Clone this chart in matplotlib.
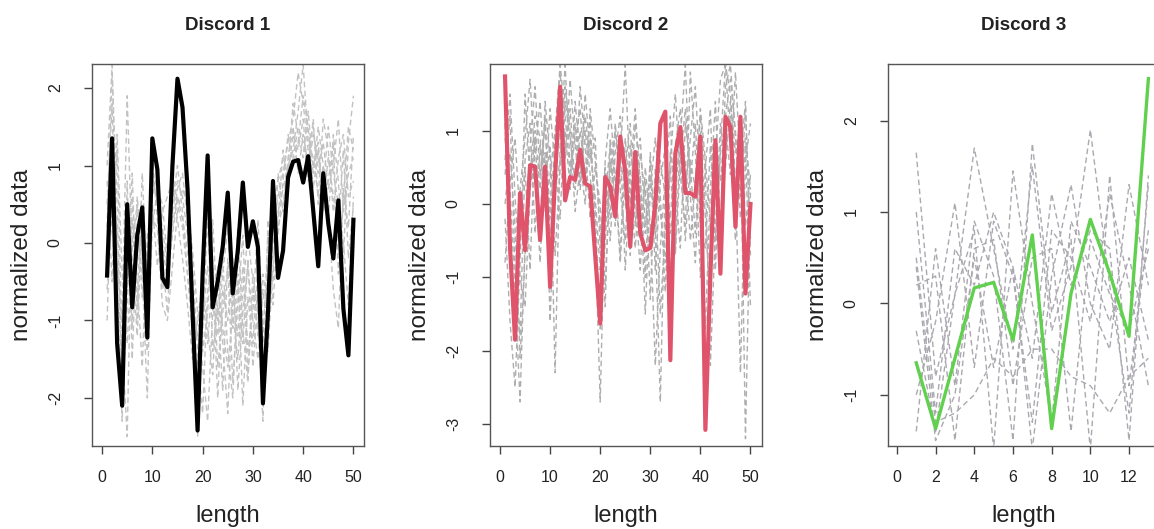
import numpy as np
import matplotlib
matplotlib.use("Agg")
import matplotlib.pyplot as plt

plt.rcParams['font.family'] = ['Liberation Sans', 'DejaVu Sans']

titles = ["Discord 1", "Discord 2", "Discord 3"]
xlabel = "length"
ylabel = "normalized data"

# ---- Discord 1 ----
discord1 = [-0.42, 1.35, -1.30, -2.10, 0.50, -0.83, 0.10, 0.46, -1.22, 1.35,
            0.95, -0.45, -0.57, 1.00, 2.12, 1.75, 0.70, -0.90, -2.42, -0.40,
            1.13, -0.83, -0.50, -0.05, 0.65, -0.65, -0.10, 0.78, -0.05, 0.28,
            -0.05, -2.07, -0.90, 0.80, -0.45, -0.10, 0.85, 1.05, 1.07, 0.78,
            1.12, 0.42, -0.30, 0.90, 0.25, -0.20, 0.55, -0.85, -1.45, 0.30]
nn1_a = [0.2, 2.2, 0.5, -1.8, -0.5, 0.3, -0.8, 0.9, -0.6, 0.8,
         0.6, 0.2, -0.3, 0.5, 1.0, 0.4, -0.4, -1.2, -1.6, -1.0,
         -0.3, -0.8, -1.2, -0.4, 0.2, -0.9, -1.5, -0.6, 0.1, -0.5,
         -1.1, -1.6, -1.0, 0.2, 0.6, 0.9, 1.3, 1.6, 2.2, 1.8,
         1.2, 1.5, 0.9, 1.3, 0.7, 1.0, 1.6, 0.4, 0.9, 1.1]
nn1_b = [-1.0, 1.0, -0.5, -2.3, 0.8, -1.5, 0.2, -0.4, -2.0, 0.6,
         0.9, -0.2, -0.9, 0.4, 0.8, 0.6, 0.1, -0.6, -2.5, -1.2,
         0.4, -1.4, -0.8, -1.9, -0.2, -1.1, -0.4, -2.1, -0.7, -1.3,
         -0.3, -1.8, -0.6, 0.5, 0.8, 1.1, 0.9, 1.4, 1.2, 1.6,
         0.8, 1.0, 1.3, 0.5, 1.1, 0.6, 0.2, 1.2, -0.2, 0.5]
nn1_c = [0.5, 1.8, -1.0, -0.9, 1.9, -0.2, -1.2, 0.3, -0.9, 1.1,
         0.3, -0.6, -0.4, 0.2, 0.7, 0.9, 0.3, -0.3, -1.4, -2.2,
         -0.6, -0.2, -1.6, -0.9, -0.3, -1.8, -0.8, 0.1, -1.4, -0.9,
         0.3, -1.0, -1.4, -0.3, 0.4, 0.7, 1.0, 1.8, 1.4, 1.1,
         1.7, 0.9, 1.5, 1.0, 0.3, 1.4, 0.8, -0.2, 1.3, 1.9]
nn1_d = [-0.6, 0.4, 1.2, -1.3, -2.5, 0.6, -0.5, -1.6, 0.1, 0.5,
         -0.3, 0.4, 0.6, 0.8, 0.3, -0.2, -0.8, -1.5, -1.0, -0.5,
         -1.1, -1.7, -0.5, -1.3, -2.2, -0.6, -1.2, -0.3, -1.7, -0.4,
         -0.9, -2.3, 0.3, -0.8, 0.2, 0.5, 1.0, 1.2, 1.7, 2.3,
         1.3, 1.1, 0.6, 1.6, 1.2, 0.4, 1.1, 1.4, 0.6, 0.8]
nn1_e = [1.0, 2.3, -0.3, -1.0, 0.2, -1.1, 0.6, -0.2, -1.4, 0.2,
         0.7, 0.5, -0.2, 0.9, 0.5, 0.2, -0.4, -1.0, -1.8, -0.7,
         -1.3, -0.4, -2.0, -0.6, -1.0, -0.2, -1.9, -0.9, -0.3, -1.0,
         -1.5, -0.6, -1.2, 0.0, 0.3, 1.2, 0.7, 1.1, 1.5, 1.3,
         0.9, 1.4, 1.1, 0.7, 1.5, 0.9, 0.5, 0.0, -0.8, 0.6]
nn1_f = [-0.3, 0.8, 0.2, -2.0, -0.8, 0.9, -1.0, 0.4, -1.1, 0.3,
         0.2, -0.8, -1.0, -0.3, 0.4, 0.7, 0.5, -0.1, -0.9, -1.6,
         -2.3, -0.9, -0.3, -1.1, -1.6, -0.9, 0.2, -1.1, -1.8, -0.6,
         -1.2, -0.4, -0.9, 0.6, 0.1, 0.8, 1.4, 1.0, 1.3, 1.9,
         1.5, 0.7, 1.2, 0.4, 0.8, 1.3, -0.4, 0.6, 1.5, 1.2]
nn1_g = [0.8, -0.5, 1.4, -0.4, -1.3, 0.0, 0.5, -0.7, -0.3, 0.9,
         0.5, 0.0, -0.5, 0.1, 0.6, 0.3, -0.1, -0.8, -1.2, -1.4,
         -0.9, 0.3, -1.0, -0.2, -1.4, -2.0, -0.5, -1.3, -0.2, -1.6,
         -0.7, -1.3, 0.1, -0.5, 0.9, 0.4, 1.1, 1.5, 0.9, 1.4,
         1.0, 1.6, 0.5, 1.0, 0.4, -0.6, -1.1, 0.7, 0.2, 1.4]

# ---- Discord 2 ----
discord2 = [1.74, -0.60, -1.85, 0.15, -0.63, 0.53, 0.51, -0.49, 0.51, -1.13,
            0.40, 1.60, 0.05, 0.37, 0.33, 0.74, 0.28, 0.24, -0.70, -1.63,
            0.37, 0.24, -0.17, 0.92, 0.45, -0.58, 0.71, -0.40, -0.63, -0.60,
            0.00, 1.10, 1.26, -2.13, 0.69, 1.05, 0.15, 0.15, 0.10, 0.92,
            -3.08, -0.95, 0.87, -0.95, 1.19, 1.05, -0.31, 1.19, -1.22, 0.00]
nn2_a = [0.9, 0.2, -1.2, -2.7, -0.5, 0.8, 1.6, 0.4, 1.1, -0.2,
         0.9, 1.8, 0.7, 1.3, 0.2, 1.0, 0.4, 1.2, -0.4, -2.7,
         0.1, 0.8, -0.3, 0.6, 1.9, 0.2, -0.6, 0.4, -1.0, 0.7,
         -0.4, -2.7, 0.3, 1.2, -0.6, 0.9, 1.9, 0.1, -0.8, 1.0,
         -0.2, -1.4, 0.6, 1.7, 1.9, 0.8, -0.5, 1.2, -0.3, 0.4]
nn2_b = [-0.2, -1.6, -2.5, -0.8, 1.5, 0.3, 0.9, -0.4, 1.4, 0.6,
         -2.3, 0.8, 1.9, 0.5, 1.1, 0.3, 1.5, 0.7, 0.1, -0.9,
         0.6, 1.3, 0.4, -0.7, 0.9, 0.0, 1.1, 0.3, -1.5, 0.2,
         0.9, 0.1, -1.2, 0.6, 1.5, 0.4, -0.3, 1.8, 0.7, -1.0,
         0.5, 1.3, -0.9, 0.8, 1.9, 1.5, 0.3, -2.3, 0.6, 1.1]
nn2_c = [0.4, 1.2, -0.9, -1.8, 0.6, 1.1, -0.4, 0.8, 0.2, 1.3,
         0.5, -0.2, 1.4, 0.9, 0.3, 1.6, 0.8, -0.2, 0.5, 0.0,
         -1.1, 0.4, 1.0, 0.2, -0.5, 0.8, 0.1, -0.9, 0.5, -0.3,
         -2.2, -0.6, 0.4, -0.2, 0.8, 1.3, 0.2, 0.9, 1.6, 0.3,
         -1.7, 0.2, 1.4, -0.4, 1.6, 1.9, 0.9, 0.1, 1.3, -0.5]
nn2_d = [1.1, -0.6, -1.4, 0.2, 0.9, 1.7, 0.5, -0.8, 0.7, -1.6,
         0.4, 1.1, 0.6, 1.7, 0.8, 0.2, 1.0, 0.4, -0.6, -1.4,
         0.3, -0.5, 0.7, 1.2, 0.0, -0.4, 0.6, -0.2, 0.3, -1.3,
         0.5, -0.1, -0.8, 0.7, 0.2, -0.6, 1.1, 0.5, -0.4, 0.8,
         -2.9, -0.8, 0.9, 0.3, 1.2, 1.7, 1.0, -0.2, 0.8, -1.4]
nn2_e = [0.0, 0.7, -0.3, -2.1, -0.7, 0.4, 1.2, 0.9, -0.1, 0.4,
         1.0, 1.9, 1.2, 0.4, 0.9, 1.3, 0.3, 0.9, -0.1, -1.7,
         -0.5, 0.6, 0.1, 0.8, -0.9, 0.4, 1.3, 0.2, -0.4, 0.6,
         -0.9, 0.3, 0.8, -0.4, 0.1, 1.0, 0.6, -0.5, 0.3, 1.2,
         0.4, -2.2, -0.3, 1.1, 0.5, 1.4, 0.7, 1.1, -3.2, 0.2]
nn2_f = [0.6, 1.5, 0.1, -1.0, -1.4, 0.2, 0.7, 1.4, 0.3, 0.8,
         -0.7, 0.5, 1.0, 0.2, 1.4, 0.6, 0.0, 1.3, 0.6, -0.3,
         -1.4, 0.9, 0.3, -0.8, 0.5, 1.1, -0.3, 0.7, 0.1, -0.6,
         0.2, -1.5, -0.3, 0.5, -0.7, 0.6, 1.3, 0.3, 1.1, -0.3,
         -0.6, 0.8, -0.5, 0.7, 1.1, 0.4, 1.8, 0.5, 0.9, 0.2]
nn2_g = [-0.8, 0.3, 0.9, -0.2, 0.5, -0.9, 1.0, 0.2, 1.2, -0.4,
         0.2, 0.6, 1.6, 1.0, -0.1, 0.5, 1.2, 0.6, 0.9, -0.6,
         0.5, -0.2, 1.1, 0.3, 0.6, -0.7, 0.5, 0.9, -0.3, 0.4,
         -0.4, 0.6, 0.1, -1.0, 0.4, 0.7, -0.5, 0.6, 0.2, 1.3,
         0.6, -0.3, 0.2, -0.9, 0.7, 1.2, 0.2, 0.6, 1.4, -0.7]

# ---- Discord 3 ----
discord3 = [-0.65, -1.37, -0.60, 0.17, 0.23, -0.40, 0.75, -1.37, 0.11, 0.92, 0.33, -0.36, 2.46]
nn3_a = [1.65, -0.8, 0.1, 1.7, 0.6, -0.5, 1.5, -0.3, 0.4, 1.9, 0.2, -1.2, 1.3]
nn3_b = [0.4, -1.5, -1.0, 0.5, -0.7, 0.4, -1.6, 0.3, 1.3, 0.0, -0.5, 1.3, 0.2]
nn3_c = [-1.4, 0.6, -0.9, 0.9, 0.3, -1.5, 1.75, -0.1, 0.7, -1.6, 1.4, -0.9, 0.8]
nn3_d = [0.5, -1.3, -1.2, -1.0, -0.6, -0.8, -0.5, -0.5, -0.8, -0.9, -1.2, -0.8, -0.6]
nn3_e = [1.0, -1.2, 0.6, 0.2, 1.0, 0.4, -0.6, 1.2, 0.2, 0.8, 0.6, -1.5, 1.4]
nn3_f = [-0.3, -1.4, 0.1, 0.8, -1.6, 1.45, 0.0, -1.3, 0.9, 0.4, -0.2, 0.5, -0.4]
nn3_g = [0.2, 0.3, -1.5, 0.6, 0.7, -0.9, 0.5, 0.6, -1.4, 0.7, 0.1, -0.3, 0.6]
nn3_h = [-1.0, -0.2, 1.1, -0.7, 0.9, 0.3, -1.3, 0.8, 0.5, -0.2, 1.2, 0.2, -0.9]

panels = [
    dict(main=discord1, nn=[nn1_a, nn1_b, nn1_c, nn1_d, nn1_e, nn1_f, nn1_g],
         color="#000000", lw=3.0, gray="#C2C2C2",
         xlim=(-2.0, 52.1), ylim=(-2.62, 2.31),
         xticks=[0, 10, 20, 30, 40, 50], yticks=[-2, -1, 0, 1, 2]),
    dict(main=discord2, nn=[nn2_a, nn2_b, nn2_c, nn2_d, nn2_e, nn2_f, nn2_g],
         color="#DF536B", lw=3.0, gray="#AEAEAE",
         xlim=(-2.0, 52.3), ylim=(-3.30, 1.91),
         xticks=[0, 10, 20, 30, 40, 50], yticks=[-3, -2, -1, 0, 1]),
    dict(main=discord3, nn=[nn3_a, nn3_b, nn3_c, nn3_d, nn3_e, nn3_f, nn3_g, nn3_h],
         color="#61D04F", lw=2.4, gray="#ABA8B0",
         xlim=(-0.46, 13.6), ylim=(-1.56, 2.62),
         xticks=[0, 2, 4, 6, 8, 10, 12], yticks=[-1, 0, 1, 2]),
]

W, H = 1154, 529
fig = plt.figure(figsize=(W / 100, H / 100), dpi=100)
lefts = [92, 490, 888]
ax_w, top, bottom = 272, 64, 446

for i, p in enumerate(panels):
    left = lefts[i]
    ax = fig.add_axes([left / W, (H - bottom) / H, ax_w / W, (bottom - top) / H])
    for s in p["nn"]:
        x = np.arange(1, len(s) + 1)
        ax.plot(x, s, color=p["gray"], lw=1.0, ls=(0, (4, 2.5)), zorder=1)
    xm = np.arange(1, len(p["main"]) + 1)
    ax.plot(xm, p["main"], color=p["color"], lw=p["lw"], zorder=3,
            solid_joinstyle='round')
    ax.set_xlim(*p["xlim"])
    ax.set_ylim(*p["ylim"])
    ax.set_xticks(p["xticks"])
    ax.set_yticks(p["yticks"])
    ax.set_xticklabels([str(t) for t in p["xticks"]])
    ax.set_yticklabels([str(t) for t in p["yticks"]], rotation=90, va='center')
    ax.tick_params(axis='both', direction='out', length=6, width=1.0,
                   color='#444444', labelsize=11.5, labelcolor='#222222')
    ax.tick_params(axis='x', pad=11)
    ax.tick_params(axis='y', pad=15)
    for sp in ax.spines.values():
        sp.set_color('#555555')
        sp.set_linewidth(1.0)
    cx = (left + ax_w / 2) / W
    fig.text(cx, 1 - 25 / H, titles[i], ha='center', va='center',
             fontsize=13.5, fontweight='bold', color='#222222')
    fig.text(cx, 1 - 516 / H, xlabel, ha='center', va='center',
             fontsize=17, color='#222222')
    fig.text((left - 70) / W, 1 - 255 / H, ylabel, ha='center', va='center',
             rotation=90, fontsize=17.5, color='#222222')

fig.savefig("out.png", dpi=100)
